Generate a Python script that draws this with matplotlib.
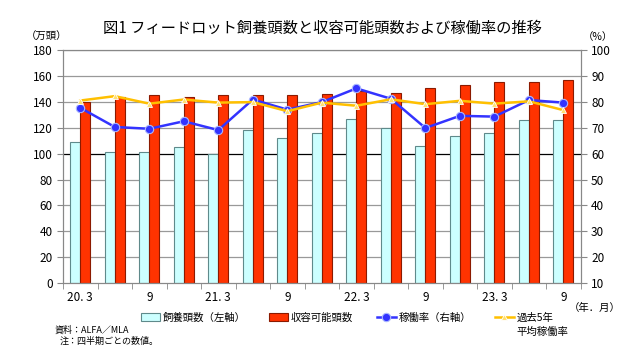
import matplotlib
matplotlib.use("Agg")
import matplotlib.pyplot as plt
import numpy as np

plt.rcParams['font.family'] = ['Noto Sans CJK JP', 'DejaVu Sans']

# 四半期 (2020.3 - 2023.9)
tick_labels = ["20. 3", "9", "21. 3", "9", "22. 3", "9", "23. 3", "9"]
head_count = [109, 101, 101, 105, 100, 118, 112, 116, 127, 120, 106, 114, 116, 126, 126]
capacity = [140, 144, 145, 144, 145, 145, 145, 146, 148, 147, 151, 153, 155, 155, 157]
utilization = [77.7, 70.3, 69.6, 72.5, 69.1, 80.9, 77.0, 79.9, 85.2, 81.2, 69.9, 74.6, 74.3, 80.7, 79.7]
avg_5yr = [80.5, 82.2, 79.3, 80.9, 79.7, 79.9, 76.4, 79.7, 78.5, 81.0, 79.1, 80.4, 79.3, 80.2, 76.8]

x = np.arange(len(head_count))
w = 0.29
grey = "#888888"

fig = plt.figure(figsize=(6.2, 3.5), dpi=100)
ax = fig.add_axes([0.1016, 0.191, 0.835, 0.666])
ax2 = ax.twinx()

# grid
for v in range(20, 181, 20):
    ax.axhline(v, color="black" if v == 100 else "#999999", lw=0.9, zorder=1)

b1 = ax.bar(x - w / 2, head_count, w, color="#CCFFFF", edgecolor="#5F8A8B", lw=0.8, zorder=2,
            label="飼養頭数（左軸）")
b2 = ax.bar(x + w / 2, capacity, w, color="#FF3300", edgecolor="#8B1A00", lw=0.8, zorder=2,
            label="収容可能頭数")

l1, = ax2.plot(x, utilization, color="#3333FF", lw=1.8, marker="o", ms=6,
               mfc="#3333FF", mec="#AAB8FF", mew=0.8, label="稼働率（右軸）")
l2, = ax2.plot(x, avg_5yr, color="#FFC000", lw=1.8, marker="^", ms=5,
               mfc="#FFE070", mec="#FFFFFF", mew=0.6, label="過去5年")

ax.set_xlim(-0.5, len(x) - 0.5)
ax.set_ylim(0, 180)
ax2.set_ylim(10, 100)
ax.set_yticks(range(0, 181, 20))
ax2.set_yticks(range(10, 101, 10))

ax.set_xticks(x[::2])
ax.set_xticklabels(tick_labels)
ax.set_xticks(np.arange(-0.5, len(x), 1), minor=True)
ax.tick_params(axis="x", which="major", length=0, pad=6, labelsize=8.5)
ax.tick_params(axis="x", which="minor", length=4, color=grey)
ax.tick_params(axis="y", length=4, color=grey, labelsize=8.5)
ax2.tick_params(axis="y", length=4, color=grey, labelsize=8.5)

for a in (ax, ax2):
    for s in a.spines.values():
        s.set_color(grey)

fig.text(0.52, 0.92, "図1 フィードロット飼養頭数と収容可能頭数および稼働率の推移",
         ha="center", va="center", fontsize=11)
fig.text(0.075, 0.895, "（万頭）", ha="center", va="center", fontsize=7.5)
fig.text(0.965, 0.895, "（%）", ha="center", va="center", fontsize=7.5)
fig.text(0.96, 0.12, "（年．月）", ha="center", va="center", fontsize=7.5)

leg = fig.legend(handles=[b1, b2, l1, l2], loc="center", bbox_to_anchor=(0.56, 0.092),
                 ncol=4, frameon=False, fontsize=7.5, handlelength=1.8, handleheight=0.8,
                 columnspacing=2.3, handletextpad=0.25, borderpad=0)
fig.canvas.draw()
bb = leg.get_texts()[3].get_window_extent().transformed(fig.transFigure.inverted())
fig.text(bb.x0, bb.y0 - 0.012, "平均稼働率", ha="left", va="top", fontsize=7.5)

fig.text(0.088, 0.057, "資料：ALFA／MLA", ha="left", va="center", fontsize=6.5)
fig.text(0.097, 0.025, "注：四半期ごとの数値。", ha="left", va="center", fontsize=6.5)

fig.savefig("out.png", dpi=100)
